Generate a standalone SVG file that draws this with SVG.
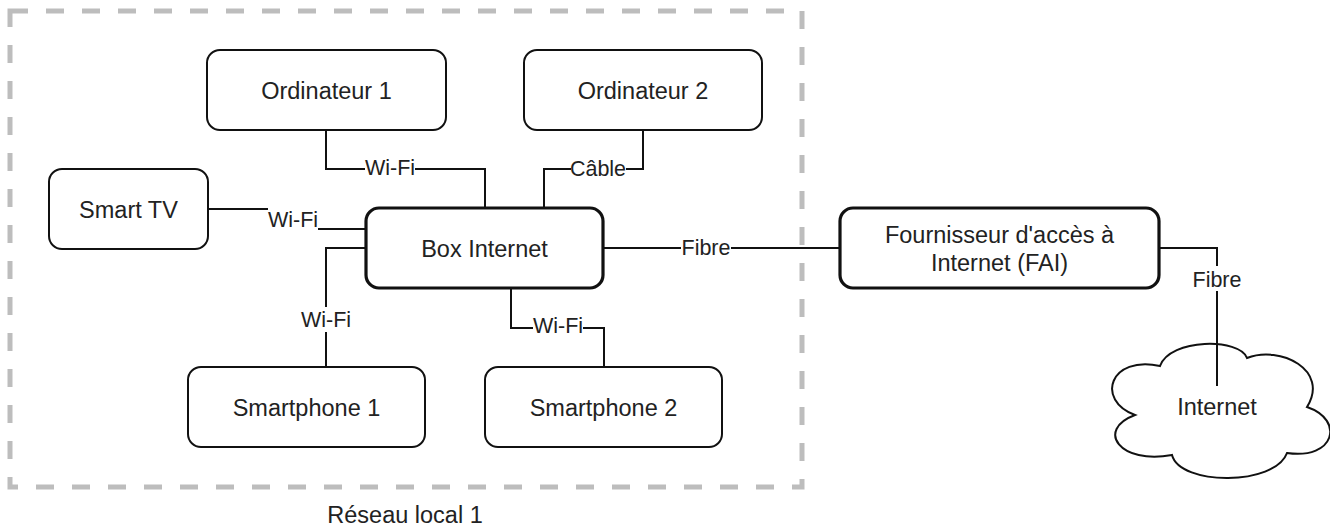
<svg xmlns="http://www.w3.org/2000/svg" width="1330" height="526" viewBox="0 0 1330 526">
<style>
.node{fill:#fff;stroke:#111;stroke-width:2}
.thick{stroke-width:3.2}
.t{font-family:"Liberation Sans",Arial,sans-serif;font-size:23.5px;fill:#222;text-anchor:middle}
.lbl{font-family:"Liberation Sans",Arial,sans-serif;font-size:21.5px;fill:#222;text-anchor:middle}
.conn{fill:none;stroke:#111;stroke-width:2}
.bg{fill:#fff}
</style>
<rect width="1330" height="526" fill="#fff"/>
<g id="reseau-local">
<rect x="10" y="11" width="792" height="476" fill="none" stroke="#bdbdbd" stroke-width="5" stroke-dasharray="18 18"/>
<text class="t" x="405" y="523">Réseau local 1</text>
</g>
<g id="connectors">
<path class="conn" d="M326,130 V169 H485 V208"/>
<path class="conn" d="M643,130 V169 H544 V208"/>
<path class="conn" d="M208,209 H293 V229 H366"/>
<path class="conn" d="M366,248 H326 V367"/>
<path class="conn" d="M511,288 V328 H604 V367"/>
<path class="conn" d="M603,248 H840"/>
<path class="conn" d="M1159,248 H1217 V386"/>
<rect class="bg" x="365" y="157" width="50" height="22"/>
<text class="lbl" x="390" y="175">Wi-Fi</text>
<rect class="bg" x="571" y="157" width="55" height="22"/>
<text class="lbl" x="598" y="176">Câble</text>
<rect class="bg" x="268" y="207" width="50" height="24"/>
<text class="lbl" x="293" y="227">Wi-Fi</text>
<rect class="bg" x="301" y="307" width="50" height="25"/>
<text class="lbl" x="326" y="327">Wi-Fi</text>
<rect class="bg" x="533" y="316" width="50" height="22"/>
<text class="lbl" x="558" y="333">Wi-Fi</text>
<rect class="bg" x="681" y="237" width="50" height="22"/>
<text class="lbl" x="706" y="255">Fibre</text>
<rect class="bg" x="1192" y="266" width="50" height="25"/>
<text class="lbl" x="1217" y="287">Fibre</text>
</g>
<g id="ordinateur1">
<rect class="node" x="207" y="50" width="239" height="80" rx="13"/>
<text class="t" x="326.5" y="99">Ordinateur 1</text>
</g>
<g id="ordinateur2">
<rect class="node" x="524" y="50" width="238" height="80" rx="13"/>
<text class="t" x="643" y="99">Ordinateur 2</text>
</g>
<g id="smarttv">
<rect class="node" x="49" y="169" width="159" height="80" rx="13"/>
<text class="t" x="128.5" y="218">Smart TV</text>
</g>
<g id="box">
<rect class="node thick" x="366" y="208" width="237" height="80" rx="13"/>
<text class="t" x="484.5" y="257">Box Internet</text>
</g>
<g id="smartphone1">
<rect class="node" x="188" y="367" width="237" height="80" rx="13"/>
<text class="t" x="306.5" y="416">Smartphone 1</text>
</g>
<g id="smartphone2">
<rect class="node" x="485" y="367" width="237" height="80" rx="13"/>
<text class="t" x="603.5" y="416">Smartphone 2</text>
</g>
<g id="fai">
<rect class="node thick" x="840" y="208" width="319" height="80" rx="13"/>
<text class="t" x="999.5" y="243">Fournisseur d'accès à</text>
<text class="t" x="999.5" y="271">Internet (FAI)</text>
</g>
<g id="internet">
<path fill="none" stroke="#111" stroke-width="2" d="M1160,366 C1170,338 1240,338 1247,358 C1280,345 1330,370 1307,407 C1345,420 1335,460 1287,453 C1275,486 1180,486 1172,455 C1120,465 1095,430 1135,415 C1095,400 1110,355 1160,366 Z"/>
<line x1="1217" y1="342" x2="1217" y2="386" stroke="#111" stroke-width="2"/>
<text class="t" x="1217" y="415">Internet</text>
</g>
</svg>
